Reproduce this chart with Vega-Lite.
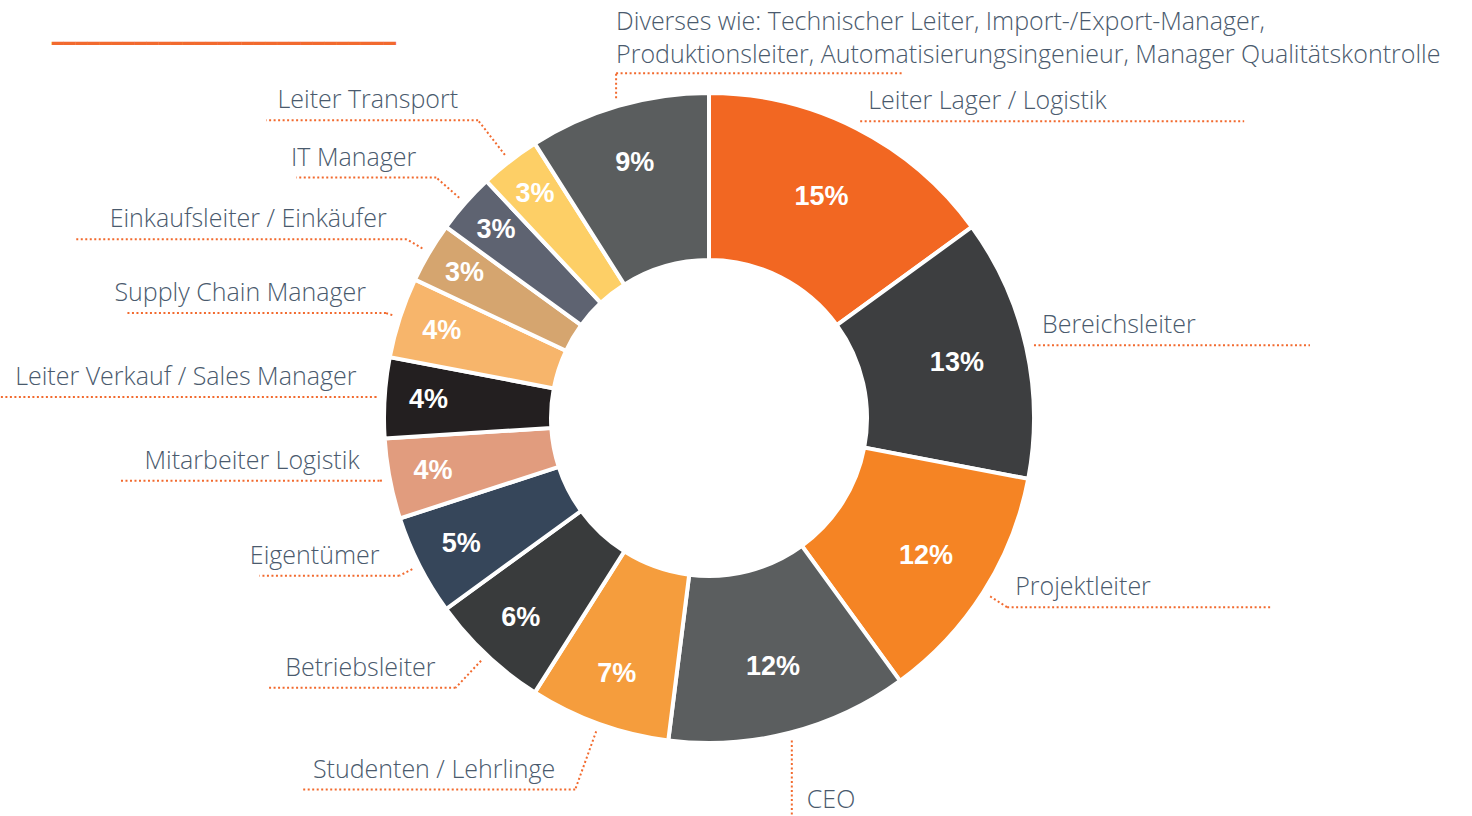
{
  "$schema": "https://vega.github.io/schema/vega-lite/v6.json",
  "width": 1418,
  "height": 796,
  "autosize": {"type": "none"},
  "padding": {"left": 0, "top": 20, "right": 54, "bottom": 0},
  "background": "white",
  "config": {"view": {"stroke": null}},
  "title": {
    "text": "━━━━━━━━━━━━━━━━━━━━━━━━━━━━━",
    "anchor": "start",
    "frame": "group",
    "color": "#F26A2E",
    "font": "DejaVu Sans",
    "fontSize": 19.7,
    "fontWeight": "normal",
    "offset": 0,
    "dx": 52,
    "dy": 43
  },
  "data": {
    "values": [
      {"label": "Leiter Lager / Logistik", "value": 15},
      {"label": "Bereichsleiter", "value": 13},
      {"label": "Projektleiter", "value": 12},
      {"label": "CEO", "value": 12},
      {"label": "Studenten / Lehrlinge", "value": 7},
      {"label": "Betriebsleiter", "value": 6},
      {"label": "Eigentümer", "value": 5},
      {"label": "Mitarbeiter Logistik", "value": 4},
      {"label": "Leiter Verkauf / Sales Manager", "value": 4},
      {"label": "Supply Chain Manager", "value": 4},
      {"label": "Einkaufsleiter / Einkäufer", "value": 3},
      {"label": "IT Manager", "value": 3},
      {"label": "Leiter Transport", "value": 3},
      {"label": "Diverses wie: Technischer Leiter, Import-/Export-Manager,\nProduktionsleiter, Automatisierungsingenieur, Manager Qualitätskontrolle", "value": 9}
    ]
  },
  "transform": [
    {"window": [{"op": "row_number", "as": "rank"}]},
    {"stack": "value", "groupby": [], "sort": [{"field": "rank", "order": "ascending"}], "as": ["v0", "v1"]},
    {"calculate": "(datum.v0 + datum.v1) / 2", "as": "mid"},
    {"calculate": "datum.value + '%'", "as": "pct"},
    {"calculate": "datum.mid * PI / 50", "as": "ang"},
    {"calculate": "sin(datum.ang)", "as": "s"},
    {"calculate": "cos(datum.ang)", "as": "c"},
    {"calculate": "datum.c > 0.95 ? 'top' : (datum.c < -0.955 ? 'bottom' : (datum.s >= 0 ? 'right' : 'left'))", "as": "kind"},
    {"calculate": "333 * datum.s", "as": "x1"},
    {"calculate": "333 * datum.c", "as": "y1"},
    {"calculate": "(datum.kind == 'left' || (datum.kind == 'right' && datum.c < 0)) ? 333 + 70 * datum.c * datum.c : 333", "as": "r2"},
    {"calculate": "(datum.kind == 'top' || datum.kind == 'bottom') ? datum.x1 : datum.r2 * datum.s", "as": "x2"},
    {"calculate": "datum.kind == 'top' ? datum.y1 + 25 : (datum.kind == 'bottom' ? datum.y1 - 75 : datum.r2 * datum.c)", "as": "y2"},
    {"calculate": "length(datum.label) * 12", "as": "w"},
    {"calculate": "datum.kind == 'right' ? datum.x2 + 8 + datum.w + 100 : (datum.kind == 'left' ? datum.x2 - 20 - datum.w : (datum.kind == 'top' ? datum.x2 + 287 : datum.x2))", "as": "x3"},
    {"calculate": "datum.kind == 'right' ? datum.x2 + 8 : (datum.kind == 'left' ? datum.x2 - 20 : (datum.kind == 'top' ? datum.x2 : datum.x2 + 15))", "as": "tx"},
    {"calculate": "datum.kind == 'top' ? datum.y2 + 43 : (datum.kind == 'bottom' ? datum.y2 + 8 : datum.y2 + 12)", "as": "ty"}
  ],
  "layer": [
    {
      "mark": {"type": "arc", "radius": 325, "radius2": 158, "stroke": "white", "strokeWidth": 4},
      "encoding": {
        "theta": {"field": "v0", "type": "quantitative", "scale": {"domain": [0, 100]}},
        "theta2": {"field": "v1"},
        "color": {
          "field": "label",
          "type": "nominal",
          "legend": null,
          "scale": {
            "domain": [
              "Leiter Lager / Logistik", "Bereichsleiter", "Projektleiter", "CEO", "Studenten / Lehrlinge",
              "Betriebsleiter", "Eigentümer", "Mitarbeiter Logistik", "Leiter Verkauf / Sales Manager",
              "Supply Chain Manager", "Einkaufsleiter / Einkäufer", "IT Manager", "Leiter Transport",
              "Diverses wie: Technischer Leiter, Import-/Export-Manager,\nProduktionsleiter, Automatisierungsingenieur, Manager Qualitätskontrolle"
            ],
            "range": [
              "#F26722", "#3D3E40", "#F58424", "#5B5E5F", "#F59D3D",
              "#393B3C", "#36465A", "#E19C7E", "#231F20",
              "#F7B56B", "#D5A56F", "#5E6371", "#FDCF66",
              "#5A5D5E"
            ]
          }
        }
      }
    },
    {
      "mark": {"type": "text", "font": "Liberation Sans", "fontWeight": "bold", "fontSize": 27, "fill": "white", "align": "center", "baseline": "middle"},
      "encoding": {
        "theta": {"field": "mid", "type": "quantitative", "stack": null, "scale": {"domain": [0, 100]}},
        "radius": {"field": "value", "type": "quantitative", "scale": {"type": "linear", "domain": [3, 15], "range": [284, 248], "zero": false}},
        "text": {"field": "pct"}
      }
    },
    {
      "mark": {"type": "rule", "color": "#F26A2E", "strokeWidth": 2, "strokeDash": [2, 2.5]},
      "encoding": {
        "x": {"field": "x1", "type": "quantitative", "scale": {"domain": [-709, 709], "nice": false, "zero": false}, "axis": null},
        "y": {"field": "y1", "type": "quantitative", "scale": {"domain": [-398, 398], "nice": false, "zero": false}, "axis": null},
        "x2": {"field": "x2"},
        "y2": {"field": "y2"}
      }
    },
    {
      "mark": {"type": "rule", "color": "#F26A2E", "strokeWidth": 2, "strokeDash": [2, 2.5]},
      "encoding": {
        "x": {"field": "x2", "type": "quantitative", "axis": null},
        "x2": {"field": "x3"},
        "y": {"field": "y2", "type": "quantitative", "axis": null}
      }
    },
    {
      "transform": [{"filter": "datum.kind == 'left'"}],
      "mark": {"type": "text", "font": "Open Sans", "fontWeight": 300, "fontSize": 25, "fill": "#4A5A6D", "align": "right", "baseline": "alphabetic"},
      "encoding": {
        "x": {"field": "tx", "type": "quantitative", "axis": null},
        "y": {"field": "ty", "type": "quantitative", "axis": null},
        "text": {"field": "label"}
      }
    },
    {
      "transform": [{"filter": "datum.kind != 'left'"}],
      "mark": {"type": "text", "font": "Open Sans", "fontWeight": 300, "fontSize": 25, "fill": "#4A5A6D", "align": "left", "baseline": "alphabetic", "lineBreak": "\n", "lineHeight": 33},
      "encoding": {
        "x": {"field": "tx", "type": "quantitative", "axis": null},
        "y": {"field": "ty", "type": "quantitative", "axis": null},
        "text": {"field": "label"}
      }
    }
  ]
}
